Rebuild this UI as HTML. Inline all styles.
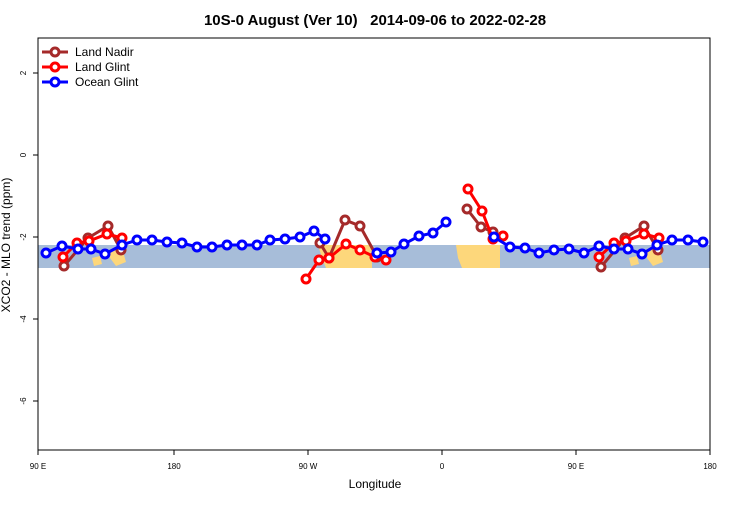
<!DOCTYPE html><html><head><style>body{margin:0;background:#fff}</style></head><body>
<svg width="750" height="500" xmlns="http://www.w3.org/2000/svg" font-family="Liberation Sans, sans-serif">
<text x="375" y="25" text-anchor="middle" font-size="15" font-weight="bold" style="white-space:pre" xml:space="preserve">10S-0 August (Ver 10)   2014-09-06 to 2022-02-28</text>
<rect x="38" y="245" width="672" height="23" fill="#a7bdd9"/>
<g fill="#fdd77b">
<path d="M92,258 L100,256 L102,264 L94,266Z M110,250 L122,248 L126,262 L116,266 L110,258Z"/>
<path d="M318,245 L372,245 L372,268 L326,268 L322,258Z"/>
<path d="M456,245 L500,245 L500,268 L462,268 L458,258Z"/>
<path d="M629,258 L637,256 L639,264 L631,266Z M647,250 L659,248 L663,262 L653,266 L647,258Z"/>
</g>
<rect x="38" y="38" width="672" height="412" fill="none" stroke="#000" stroke-width="1"/>
<g stroke="#000"><line x1="33" y1="73" x2="38" y2="73"/><line x1="33" y1="155" x2="38" y2="155"/><line x1="33" y1="237" x2="38" y2="237"/><line x1="33" y1="319" x2="38" y2="319"/><line x1="33" y1="401" x2="38" y2="401"/>
<line x1="38" y1="450" x2="38" y2="455"/><line x1="174" y1="450" x2="174" y2="455"/><line x1="308" y1="450" x2="308" y2="455"/><line x1="442" y1="450" x2="442" y2="455"/><line x1="576" y1="450" x2="576" y2="455"/><line x1="710" y1="450" x2="710" y2="455"/></g>
<g font-size="8" text-anchor="middle"><text transform="translate(26,73) rotate(-90)">2</text><text transform="translate(26,155) rotate(-90)">0</text><text transform="translate(26,237) rotate(-90)">-2</text><text transform="translate(26,319) rotate(-90)">-4</text><text transform="translate(26,401) rotate(-90)">-6</text>
<text x="38" y="469">90 E</text><text x="174" y="469">180</text><text x="308" y="469">90 W</text><text x="442" y="469">0</text><text x="576" y="469">90 E</text><text x="710" y="469">180</text></g>
<text x="375" y="488" text-anchor="middle" font-size="12">Longitude</text>
<text transform="translate(10,245) rotate(-90)" text-anchor="middle" font-size="12">XCO2 - MLO trend (ppm)</text>
<g fill="#fff" stroke-width="3">
<g stroke="#a52a2a"><polyline fill="none" points="64,266 88,238 108,226 121,250"/><polyline fill="none" points="320,243 329,258 345,220 360,226 377,257"/><polyline fill="none" points="467,209 481,227 493,232"/><polyline fill="none" points="601,267 625,238 644,226 658,250"/>
<g><circle cx="64" cy="266" r="4"/><circle cx="88" cy="238" r="4"/><circle cx="108" cy="226" r="4"/><circle cx="121" cy="250" r="4"/><circle cx="320" cy="243" r="4"/><circle cx="329" cy="258" r="4"/><circle cx="345" cy="220" r="4"/><circle cx="360" cy="226" r="4"/><circle cx="377" cy="257" r="4"/><circle cx="467" cy="209" r="4"/><circle cx="481" cy="227" r="4"/><circle cx="493" cy="232" r="4"/><circle cx="601" cy="267" r="4"/><circle cx="625" cy="238" r="4"/><circle cx="644" cy="226" r="4"/><circle cx="658" cy="250" r="4"/></g></g>
<g stroke="#f00"><polyline fill="none" points="63,257 77,243 89,241 107,234 122,238"/><polyline fill="none" points="306,279 319,260 329,258 346,244 360,250 375,257 386,260"/><polyline fill="none" points="468,189 482,211 493,239 503,236"/><polyline fill="none" points="599,257 614,243 626,241 644,234 659,238"/>
<circle cx="63" cy="257" r="4"/><circle cx="77" cy="243" r="4"/><circle cx="89" cy="241" r="4"/><circle cx="107" cy="234" r="4"/><circle cx="122" cy="238" r="4"/><circle cx="306" cy="279" r="4"/><circle cx="319" cy="260" r="4"/><circle cx="329" cy="258" r="4"/><circle cx="346" cy="244" r="4"/><circle cx="360" cy="250" r="4"/><circle cx="375" cy="257" r="4"/><circle cx="386" cy="260" r="4"/><circle cx="468" cy="189" r="4"/><circle cx="482" cy="211" r="4"/><circle cx="493" cy="239" r="4"/><circle cx="503" cy="236" r="4"/><circle cx="599" cy="257" r="4"/><circle cx="614" cy="243" r="4"/><circle cx="626" cy="241" r="4"/><circle cx="644" cy="234" r="4"/><circle cx="659" cy="238" r="4"/></g>
<g stroke="#00f"><polyline fill="none" points="46,253 62,246 78,249 91,249 105,254 122,245 137,240 152,240 167,242 182,243 197,247 212,247 227,245 242,245 257,245 270,240 285,239 300,237 314,231 325,239"/><polyline fill="none" points="377,253 391,252 404,244 419,236 433,233 446,222"/><polyline fill="none" points="494,237 510,247 525,248 539,253 554,250 569,249 584,253 599,246 614,249 628,249 642,254 657,245 672,240 688,240 703,242"/>
<circle cx="46" cy="253" r="4"/><circle cx="62" cy="246" r="4"/><circle cx="78" cy="249" r="4"/><circle cx="91" cy="249" r="4"/><circle cx="105" cy="254" r="4"/><circle cx="122" cy="245" r="4"/><circle cx="137" cy="240" r="4"/><circle cx="152" cy="240" r="4"/><circle cx="167" cy="242" r="4"/><circle cx="182" cy="243" r="4"/><circle cx="197" cy="247" r="4"/><circle cx="212" cy="247" r="4"/><circle cx="227" cy="245" r="4"/><circle cx="242" cy="245" r="4"/><circle cx="257" cy="245" r="4"/><circle cx="270" cy="240" r="4"/><circle cx="285" cy="239" r="4"/><circle cx="300" cy="237" r="4"/><circle cx="314" cy="231" r="4"/><circle cx="325" cy="239" r="4"/><circle cx="377" cy="253" r="4"/><circle cx="391" cy="252" r="4"/><circle cx="404" cy="244" r="4"/><circle cx="419" cy="236" r="4"/><circle cx="433" cy="233" r="4"/><circle cx="446" cy="222" r="4"/><circle cx="494" cy="237" r="4"/><circle cx="510" cy="247" r="4"/><circle cx="525" cy="248" r="4"/><circle cx="539" cy="253" r="4"/><circle cx="554" cy="250" r="4"/><circle cx="569" cy="249" r="4"/><circle cx="584" cy="253" r="4"/><circle cx="599" cy="246" r="4"/><circle cx="614" cy="249" r="4"/><circle cx="628" cy="249" r="4"/><circle cx="642" cy="254" r="4"/><circle cx="657" cy="245" r="4"/><circle cx="672" cy="240" r="4"/><circle cx="688" cy="240" r="4"/><circle cx="703" cy="242" r="4"/></g>
<g><line x1="42" y1="52" x2="68" y2="52" stroke="#a52a2a"/><circle cx="55" cy="52" r="4" stroke="#a52a2a"/><line x1="42" y1="67" x2="68" y2="67" stroke="#f00"/><circle cx="55" cy="67" r="4" stroke="#f00"/><line x1="42" y1="82" x2="68" y2="82" stroke="#00f"/><circle cx="55" cy="82" r="4" stroke="#00f"/></g>
</g>
<g font-size="12"><text x="75" y="56">Land Nadir</text><text x="75" y="71">Land Glint</text><text x="75" y="86">Ocean Glint</text></g>
</svg></body></html>
